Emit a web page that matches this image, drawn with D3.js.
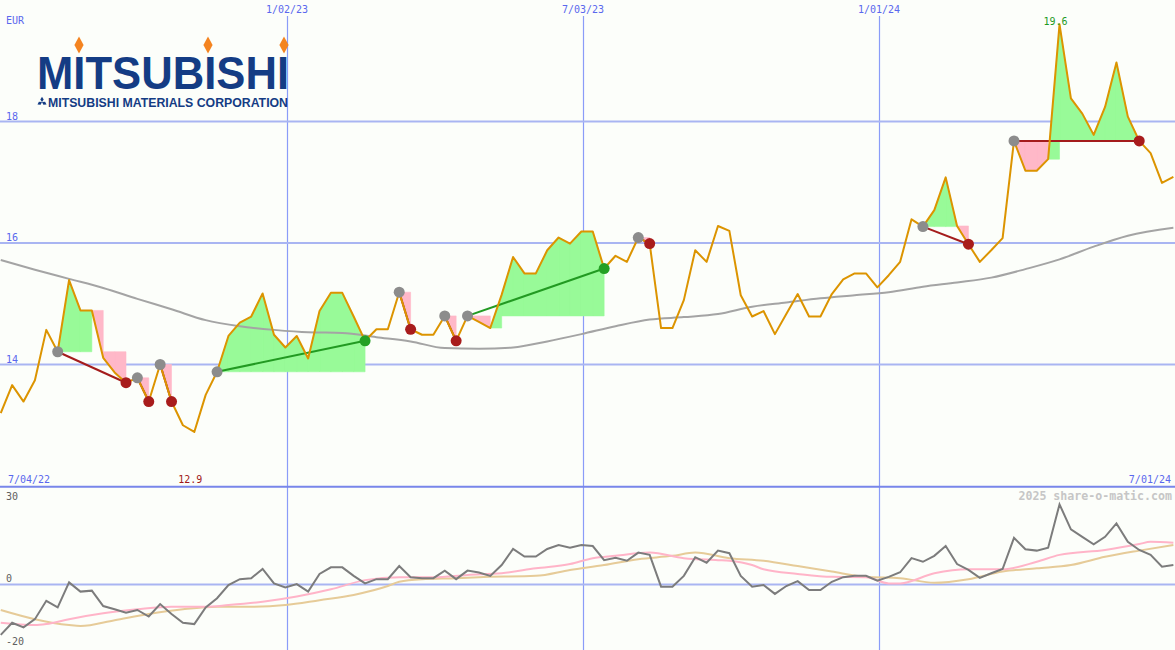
<!DOCTYPE html>
<html><head><meta charset="utf-8">
<script src="https://cdnjs.cloudflare.com/ajax/libs/d3/7.8.5/d3.min.js"></script>
<style>
html,body{margin:0;padding:0;background:#fcfefa;overflow:hidden}
#wrap{position:relative;width:1175px;height:650px}
#c{position:absolute;left:0;top:0}
.lg{position:absolute;white-space:nowrap;font-family:'Liberation Sans',Arial,sans-serif;font-weight:bold;color:#143c84;transform-origin:0 0}
</style>
</head><body><div id="wrap"><svg id="c" width="1175" height="650"></svg>
<div id="t1" class="lg" style="left:37px;top:56.2px;font-size:47px;line-height:34px">MITSUBISHI</div>
<div id="t2" class="lg" style="left:48px;top:97.8px;font-size:12.4px;line-height:10px">MITSUBISHI MATERIALS CORPORATION</div>
</div>
<script>
// ---------- data ----------
const startDate = new Date(2022, 6, 10);   // first weekly observation
const price = [13.20,13.66,13.39,13.74,14.57,14.21,15.39,14.89,14.89,14.11,
  13.87,13.70,13.78,13.39,14.00,13.39,13.00,12.89,13.50,13.88,
  14.47,14.69,14.79,15.17,14.49,14.28,14.47,14.10,14.88,15.18,
  15.18,14.79,14.39,14.58,14.58,15.19,14.58,14.49,14.49,14.80,
  14.39,14.80,14.70,14.60,15.15,15.77,15.50,15.50,15.88,16.09,
  15.99,16.19,16.19,15.58,15.79,15.69,16.09,15.99,14.60,14.60,
  15.06,15.88,15.69,16.28,16.20,15.14,14.79,14.88,14.50,14.83,
  15.16,14.79,14.79,15.16,15.40,15.50,15.50,15.27,15.47,15.69,
  16.39,16.27,16.54,17.08,16.28,15.98,15.69,15.88,16.08,17.68,
  17.19,17.19,17.38,19.60,18.38,18.13,17.78,18.24,18.97,18.08,
  17.68,17.48,16.99,17.09];
const maWeek = [0,3,6,9,12,15,18,21,24,27,30,33,36,39,42,45,48,51,54,57,60,63,66,69,72,75,78,81,84,87,90,93,96,99,103];
const maVal  = [15.72,15.56,15.41,15.26,15.08,14.91,14.73,14.63,14.57,14.53,14.52,14.45,14.38,14.27,14.26,14.28,14.38,14.50,14.63,14.74,14.78,14.83,14.95,15.02,15.09,15.14,15.19,15.28,15.35,15.43,15.57,15.73,15.94,16.12,16.25];
const osc = [-15.4,-11.7,-13.1,-10.6,-5.0,-7.0,0.6,-2.2,-1.9,-6.6,
  -7.6,-8.6,-7.8,-9.8,-6.0,-9.0,-11.7,-12.1,-7.0,-4.2,
  -0.2,1.6,1.9,4.7,0.3,-0.9,0.1,-2.2,3.2,5.2,
  5.2,2.6,0.3,1.6,1.6,5.6,2.2,1.9,1.9,4.2,
  1.6,4.2,3.6,2.6,5.9,10.8,8.5,8.5,10.8,12.0,
  11.2,12.0,11.7,7.4,8.1,7.2,9.7,9.0,-0.7,-0.7,
  2.6,8.3,6.6,10.3,9.5,2.6,-0.7,-0.2,-2.9,-0.5,
  1.0,-1.7,-1.7,0.8,2.2,2.6,2.6,1.1,2.3,3.7,
  8.0,6.9,8.7,11.7,6.2,4.4,2.0,3.4,4.7,14.2,
  10.7,10.3,11.2,24.4,16.8,14.5,12.2,14.5,18.6,13.0,
  10.5,9.0,5.4,5.9];
const pinkWeek = [0,3,4,6,9,12,15,18,20,23,26,29,32,35,38,41,44,47,50,52,54,57,60,63,64,66,67,70,73,76,78,79,82,85,88,91,93,97,100,101,103];
const pinkVal  = [-11.7,-12.4,-12.1,-10.6,-8.8,-7.6,-6.8,-6.8,-6.3,-5.3,-3.7,-1.5,1.3,2.2,2.2,2.9,3.4,4.9,6.2,8.0,8.7,9.7,8.0,7.4,7.2,5.9,4.6,3.2,2.3,2.2,0.3,0.3,3.4,4.6,4.6,6.9,9.0,10.5,12.3,13.0,12.7];
const tanWeek = [0,3,6,7,10,13,16,19,22,25,28,31,34,35,37,40,42,47,50,53,56,59,61,64,67,70,73,76,79,82,85,88,91,94,97,100,103];
const tanVal  = [-7.8,-10.6,-12.4,-12.7,-10.9,-9.0,-7.6,-6.8,-6.8,-6.3,-4.8,-3.2,-0.5,0.8,1.6,1.9,2.2,2.6,4.4,5.9,7.7,8.7,9.7,8.0,7.2,5.6,3.9,2.3,1.9,0.5,1.6,3.9,4.9,5.9,8.4,10.3,12.0];
const sigStart = [5,12,14,19,35,39,41,56,81,89];
const sigEnd   = [11,13,15,32,36,40,53,57,85,100];
const sigUp    = [false,false,false,true,false,false,true,false,false,false];
const gridDates  = [new Date(2023,0,2), new Date(2023,6,3), new Date(2024,0,1)];
const gridLabels = ["1/02/23","7/03/23","1/01/24"];
const edgeDates  = [new Date(2022,6,4), new Date(2024,6,1)];
const edgeLabels = ["7/04/22","7/01/24"];
const yTicks = [14,16,18];
const oscTicks = [30,0,-20];
const hiLabel = "19.6", loLabel = "12.9";

// ---------- scales ----------
const W = 1175;
const dates = price.map((_, i) => d3.timeDay.offset(startDate, 7 * i));
const x = d3.scaleTime().domain(edgeDates).range([-9, 1175]);
const y = d3.scaleLinear().domain([12, 20]).range([486, 0]);
const yo = d3.scaleLinear().domain([-20, 30]).range([650, 486]);
const svg = d3.select("#c");
const mono = "'DejaVu Sans Mono', monospace";
const axisBlue = "#5a68ee", gridCol = "#a9b5f2";

// ---------- grid ----------
svg.append("g").selectAll("line").data(gridDates).join("line")
  .attr("x1", d => Math.round(x(d)) + 0.5).attr("x2", d => Math.round(x(d)) + 0.5)
  .attr("y1", 16).attr("y2", 650).attr("stroke", "#8a9cf8").attr("stroke-width", 1.2);
svg.append("g").selectAll("line").data(yTicks).join("line")
  .attr("x1", 0).attr("x2", W).attr("y1", d => y(d)).attr("y2", d => y(d))
  .attr("stroke", gridCol).attr("stroke-width", 2);
svg.append("line").attr("x1", 0).attr("x2", W).attr("y1", yo(0)).attr("y2", yo(0))
  .attr("stroke", gridCol).attr("stroke-width", 2);
svg.append("line").attr("x1", 0).attr("x2", W).attr("y1", 486.7).attr("y2", 486.7)
  .attr("stroke", "#7886ea").attr("stroke-width", 2);

// ---------- signal fills (one path per colour per signal) ----------
const poly = d3.line().x(d => x(dates[d[0]])).y(d => y(d[1]));
const fills = svg.append("g");
sigStart.forEach((s, k) => {
  const L = price[s];
  let gD = "", pD = "";
  for (let i = s; i < sigEnd[k]; i++) {
    const a = price[i], b = price[i + 1];
    const up = b >= L;
    const ref = up ? Math.min(L, a) : Math.max(L, a);
    const d = poly([[i, ref], [i + 1, ref], [i + 1, b], [i, a]]) + "Z";
    if (up) gD += d; else pD += d;
  }
  if (gD) fills.append("path").attr("d", gD).attr("fill", "#98fa98").attr("stroke", "#98fa98").attr("stroke-width", 0.6);
  if (pD) fills.append("path").attr("d", pD).attr("fill", "#ffb8c8").attr("stroke", "#ffb8c8").attr("stroke-width", 0.6);
});

// ---------- moving average ----------
svg.append("path").datum(maWeek.map((w, i) => [w, maVal[i]]))
  .attr("d", d3.line().x(d => x(d3.timeDay.offset(startDate, 7 * d[0]))).y(d => y(d[1])).curve(d3.curveMonotoneX))
  .attr("fill", "none").attr("stroke", "#a4a4a4").attr("stroke-width", 2);

// ---------- signal lines ----------
svg.append("g").selectAll("line").data(sigStart).join("line")
  .attr("x1", d => x(dates[d])).attr("y1", d => y(price[d]))
  .attr("x2", (d, k) => x(dates[sigEnd[k]])).attr("y2", (d, k) => y(price[sigEnd[k]]))
  .attr("stroke", (d, k) => sigUp[k] ? "#229a22" : "#a41c1c").attr("stroke-width", 2);

// ---------- price ----------
svg.append("path").datum(price)
  .attr("d", d3.line().x((d, i) => x(dates[i])).y(d => y(d)))
  .attr("fill", "none").attr("stroke", "#dc9400").attr("stroke-width", 2).attr("stroke-linejoin", "round");

// ---------- dots ----------
const dots = svg.append("g");
sigStart.forEach((s, k) => {
  dots.append("circle").attr("cx", x(dates[s])).attr("cy", y(price[s])).attr("r", 5.5).attr("fill", "#8c8c8c");
  const e = sigEnd[k];
  dots.append("circle").attr("cx", x(dates[e])).attr("cy", y(price[e])).attr("r", 5.5)
    .attr("fill", sigUp[k] ? "#24a024" : "#a81c1c");
});

// ---------- oscillator ----------
const oline = d3.line().x(d => x(d3.timeDay.offset(startDate, 7 * d[0]))).y(d => yo(d[1]));
svg.append("path").datum(tanWeek.map((w, i) => [w, tanVal[i]]))
  .attr("d", oline.curve(d3.curveMonotoneX)).attr("fill", "none").attr("stroke", "#e6cb98").attr("stroke-width", 2);
svg.append("path").datum(pinkWeek.map((w, i) => [w, pinkVal[i]]))
  .attr("d", oline.curve(d3.curveMonotoneX)).attr("fill", "none").attr("stroke", "#ffb4c8").attr("stroke-width", 2);
svg.append("path").datum(osc.map((v, i) => [i, v]))
  .attr("d", oline.curve(d3.curveLinear)).attr("fill", "none").attr("stroke", "#7c7c7c").attr("stroke-width", 2);

// ---------- texts ----------
const txt = (t, xx, yy, col, anchor, extra) => {
  const n = svg.append("text").text(t).attr("x", xx).attr("y", yy)
    .attr("fill", col).attr("font-family", mono).attr("font-size", 10)
    .attr("text-anchor", anchor || "start");
  if (extra) extra(n);
  return n;
};
txt("EUR", 6, 24, axisBlue);
yTicks.forEach(t => txt(String(t), 6, y(t) - 2, axisBlue));
gridDates.forEach((d, i) => txt(gridLabels[i], x(d), 13, axisBlue, "middle"));
txt(edgeLabels[0], 8, 483, axisBlue);
txt(edgeLabels[1], 1171, 483, axisBlue, "end");
const iMax = d3.maxIndex(price), iMin = d3.minIndex(price);
txt(hiLabel, x(dates[iMax]) - 4, 25, "#1e9a1e", "middle");
txt(loLabel, x(dates[iMin]) - 4, 483, "#a01818", "middle");
txt(String(oscTicks[0]), 6, 500, "#606060");
txt(String(oscTicks[1]), 6, yo(0) - 2.5, "#606060");
txt(String(oscTicks[2]), 6, 645, "#606060");
txt("2025 share-o-matic.com", 1172, 500, "#c6c6c6", "end", n => n.attr("font-size", 11.6).attr("font-weight", "bold"));

// ---------- logo ----------
const navy = "#143c84";
const logo = svg.append("g");
[79, 208, 284].forEach(cx => {
  logo.append("path").attr("d", `M${cx},36.5 L${cx + 4.6},45 L${cx},53.5 L${cx - 4.6},45 Z`).attr("fill", "#f48420");
});
const mk = logo.append("g").attr("transform", "translate(42,102)");
[0, 120, 240].forEach(r => {
  mk.append("path").attr("d", "M0,0 L1.7,-2.6 L0,-5.2 L-1.7,-2.6 Z").attr("fill", navy)
    .attr("transform", `rotate(${r})`);
});
// fit the HTML logo words to their widths
[["t1", 252], ["t2", 240]].forEach(([id, w]) => {
  const el = document.getElementById(id);
  const nat = el.getBoundingClientRect().width;
  el.style.transform = `scaleX(${w / nat})`;
});
</script></body></html>
